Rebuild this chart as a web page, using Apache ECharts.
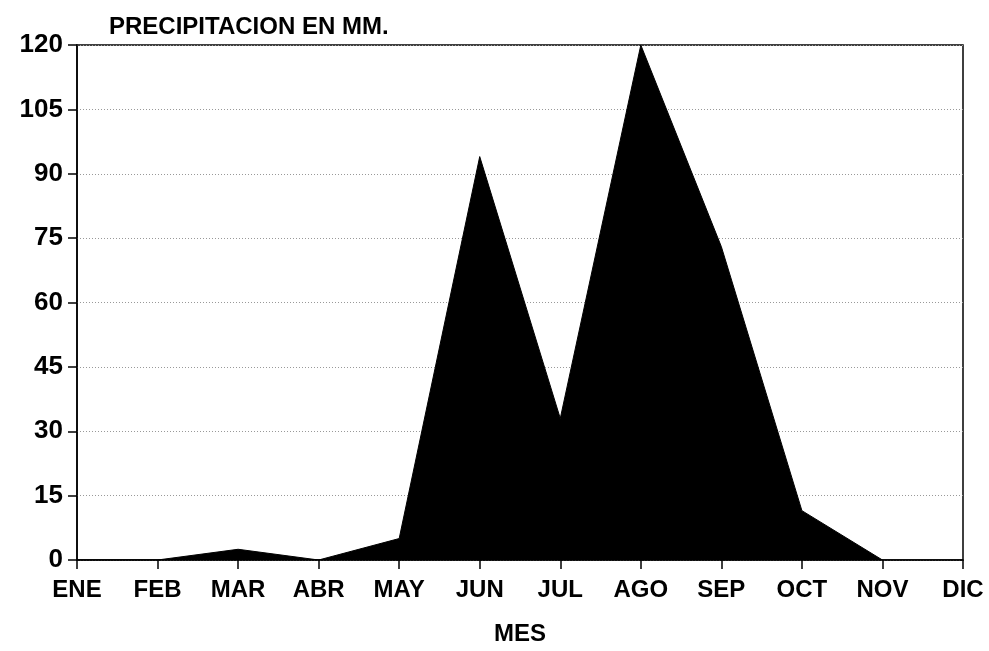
<!DOCTYPE html>
<html>
<head>
<meta charset="utf-8">
<script src="https://cdn.jsdelivr.net/npm/echarts@6/dist/echarts.min.js"></script>
<style>
html,body{margin:0;padding:0;background:#fff;}
#chart{width:989px;height:651px;}
</style>
</head>
<body>
<div id="chart"></div>
<script>
const months = ['ENE','FEB','MAR','ABR','MAY','JUN','JUL','AGO','SEP','OCT','NOV','DIC'];
const precipitation = [0, 0, 2.5, 0, 5, 94, 33, 120, 73, 11.5, 0, null];
const yMin = 0, yMax = 120, yStep = 15;
const titleText = 'PRECIPITACION EN MM.';
const xName = 'MES';

const font = '"Liberation Sans", Arial, Helvetica, sans-serif';
const chart = echarts.init(document.getElementById('chart'));
chart.setOption({
  animation: false,
  backgroundColor: '#fff',
  title: {
    text: titleText,
    left: 104, top: 10,
    textStyle: {fontFamily: font, fontWeight: 'bold', fontSize: 24, color: '#000'}
  },
  grid: {left: 77, right: 26, top: 45, bottom: 84, show: true, borderColor: '#000', borderWidth: 1.5},
  xAxis: {
    type: 'category', data: months, boundaryGap: false,
    name: xName, nameLocation: 'middle', nameGap: 62,
    nameTextStyle: {fontFamily: font, fontWeight: 'bold', fontSize: 24, color: '#000'},
    axisLine: {lineStyle: {color: '#000', width: 1.5}},
    axisTick: {show: true, length: 9, lineStyle: {color: '#000', width: 1.5}},
    axisLabel: {fontFamily: font, fontWeight: 'bold', fontSize: 24, color: '#000', margin: 18},
    splitLine: {show: false}
  },
  yAxis: {
    type: 'value', min: yMin, max: yMax, interval: yStep,
    axisLine: {show: true, lineStyle: {color: '#000', width: 1.5}},
    axisTick: {show: true, length: 9, lineStyle: {color: '#000', width: 1.5}},
    axisLabel: {fontFamily: font, fontWeight: 'bold', fontSize: 26, color: '#000', margin: 14},
    splitLine: {show: true, lineStyle: {color: '#999', type: [1, 2], width: 1}}
  },
  series: [{
    type: 'line', data: precipitation, symbol: 'none',
    lineStyle: {color: '#000', width: 1},
    areaStyle: {color: '#000', opacity: 1},
    z: 3
  }]
});
</script>
</body>
</html>
